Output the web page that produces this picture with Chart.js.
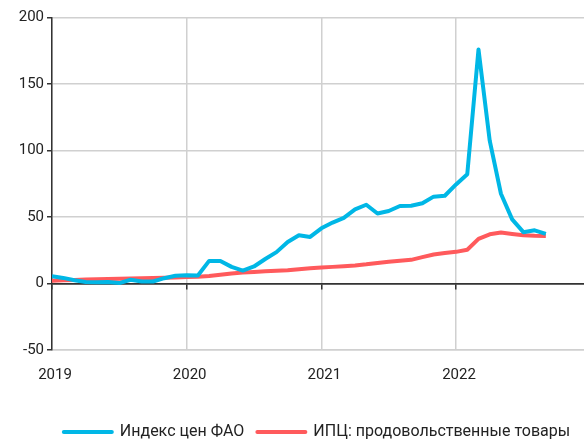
<!DOCTYPE html>
<html>
<head>
<meta charset="utf-8">
<script src="https://cdn.jsdelivr.net/npm/chart.js@4.4.1/dist/chart.umd.min.js"></script>
<style>
html,body{margin:0;padding:0;background:#fff;}
#wrap{width:584px;height:441px;position:relative;}
</style>
</head>
<body>
<div id="wrap"><canvas id="c"></canvas></div>
<script>
// Monthly observations, Jan 2019 – Sep 2022 (% y/y)
const months = [
  '2019-01','2019-02','2019-03','2019-04','2019-05','2019-06','2019-07','2019-08','2019-09','2019-10','2019-11','2019-12',
  '2020-01','2020-02','2020-03','2020-04','2020-05','2020-06','2020-07','2020-08','2020-09','2020-10','2020-11','2020-12',
  '2021-01','2021-02','2021-03','2021-04','2021-05','2021-06','2021-07','2021-08','2021-09','2021-10','2021-11','2021-12',
  '2022-01','2022-02','2022-03','2022-04','2022-05','2022-06','2022-07','2022-08','2022-09'
];
const yearLabels = ['2019', '2020', '2021', '2022'];
const faoIndex = [
  5.5, 4.2, 2.5, 1.2, 1.0, 1.2, 0.3, 2.8, 1.5, 1.5, 4.0, 5.8,
  6.2, 6.0, 17.0, 17.0, 12.5, 9.7, 12.8, 18.4, 23.6, 31.2, 36.3, 35.0,
  41.5, 45.8, 49.4, 55.8, 59.2, 52.6, 54.5, 58.3, 58.5, 60.3, 65.3, 66.0,
  74.5, 82.2, 176.0, 107.4, 67.5, 48.2, 38.6, 40.0, 37.3
];
const cpiFood = [
  2.0, 2.4, 2.7, 3.0, 3.2, 3.4, 3.6, 3.8, 4.0, 4.2, 4.4, 4.6,
  4.8, 5.0, 5.6, 6.6, 7.6, 8.2, 8.7, 9.2, 9.6, 10.0, 10.8, 11.4,
  12.0, 12.5, 13.0, 13.6, 14.4, 15.4, 16.4, 17.1, 17.8, 19.8, 21.8, 22.9,
  23.8, 25.4, 33.6, 37.0, 38.3, 37.3, 36.3, 35.9, 35.8
];
const seriesNames = ['Индекс цен ФАО', 'ИПЦ: продовольственные товары'];

const toPoints = arr => arr.map((v, i) => ({ x: i, y: v }));
const xMax = 47.4;

const shiftLegend = {
  id: 'shiftLegend',
  afterUpdate(chart) {
    const l = chart.legend;
    if (!l) return;
    l.left += 50;
    l.top += 9;
    l.bottom += 9;
  }
};

new Chart(document.getElementById('c'), {
  type: 'line',
  data: {
    datasets: [
      { label: seriesNames[0], data: toPoints(faoIndex), borderColor: '#00B7E6', backgroundColor: '#00B7E6',
        borderWidth: 4, pointRadius: 0, tension: 0, fill: false, borderJoinStyle: 'round' },
      { label: seriesNames[1], data: toPoints(cpiFood), borderColor: '#FF5A5C', backgroundColor: '#FF5A5C',
        borderWidth: 4, pointRadius: 0, tension: 0, fill: false, borderJoinStyle: 'round' }
    ]
  },
  options: {
    responsive: true,
    maintainAspectRatio: false,
    animation: false,
    layout: { padding: { top: 17.5, right: 0, left: 0, bottom: 0 } },
    plugins: {
      legend: {
        position: 'bottom',
        align: 'center',
        labels: {
          usePointStyle: true,
          pointStyle: 'line',
          pointStyleWidth: 48,
          boxHeight: 4,
          padding: 13,
          color: '#222',
          font: { family: 'Roboto', size: 16 },
          generateLabels(chart) {
            return Chart.defaults.plugins.legend.labels.generateLabels(chart)
              .map(item => Object.assign(item, { lineCap: 'round' }));
          }
        }
      },
      tooltip: { enabled: false }
    },
    scales: {
      x: {
        type: 'linear',
        position: 'bottom',
        min: 0,
        max: xMax,
        afterFit(scale) { scale.height = 52; },
        grid: { color: '#d0d0d0', lineWidth: 1.5, drawTicks: false },
        border: { color: '#d0d0d0', width: 1.5 },
        ticks: {
          stepSize: 12,
          includeBounds: false,
          padding: 16,
          labelOffset: 3,
          maxRotation: 0,
          color: '#222',
          font: { family: 'Roboto', size: 15 },
          callback: v => yearLabels[v / 12] ?? ''
        }
      },
      xZero: {
        type: 'linear',
        position: { y: 0 },
        min: 0,
        max: xMax,
        grid: { drawOnChartArea: false, drawTicks: true, tickLength: 5, color: '#333', lineWidth: 1.5 },
        border: { color: '#333', width: 1.5 },
        ticks: { stepSize: 12, includeBounds: false, display: false }
      },
      y: {
        min: -50,
        max: 200,
        afterFit(scale) { scale.width = 52; },
        grid: {
          color: ctx => (ctx.tick && ctx.tick.value === 0 ? '#333' : '#d0d0d0'),
          lineWidth: 1.5,
          tickColor: '#333',
          tickLength: 5
        },
        border: { color: '#333', width: 1.5 },
        ticks: {
          stepSize: 50,
          padding: 3,
          color: '#222',
          font: { family: 'Roboto', size: 15 }
        }
      }
    }
  },
  plugins: [shiftLegend]
});
</script>
</body>
</html>
